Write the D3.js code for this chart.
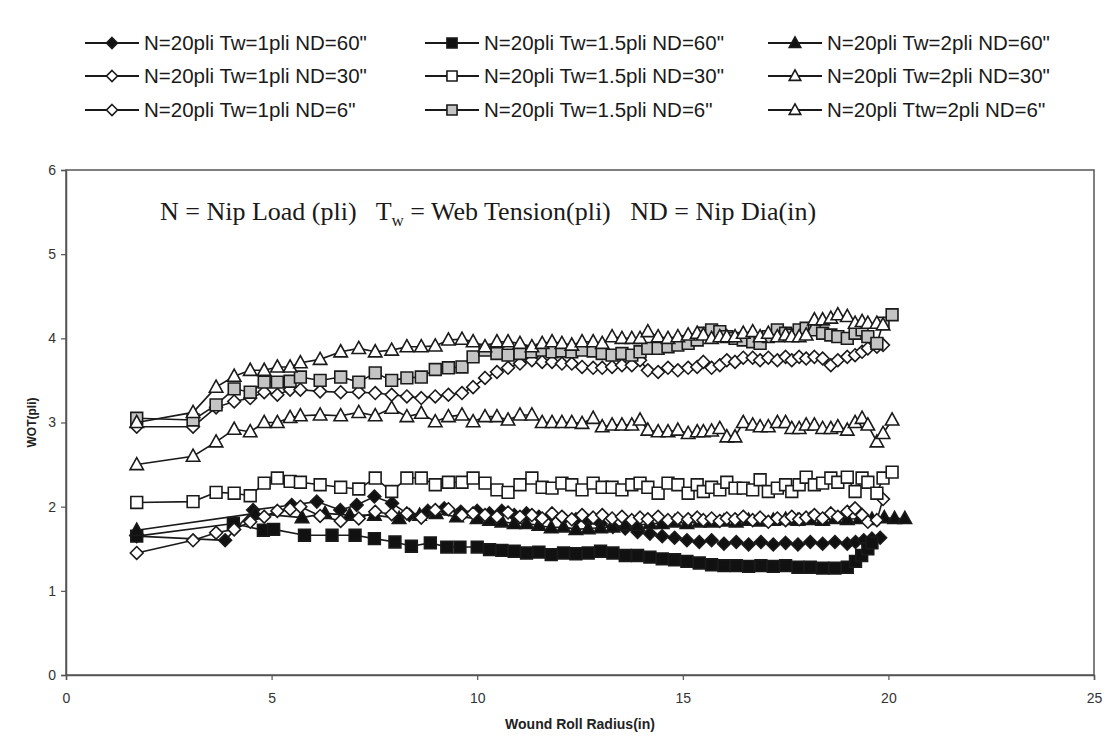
<!DOCTYPE html>
<html><head><meta charset="utf-8">
<script src="https://cdn.jsdelivr.net/npm/d3@7"></script>
<style>body{margin:0;background:#fff}svg{display:block}</style>
</head><body><svg id="c" width="1119" height="737"></svg>
<script>
// ---------------- DATA ----------------
const xTicks = [0, 5, 10, 15, 20, 25];
const yTicks = [0, 1, 2, 3, 4, 5, 6];

// 60" nip series
const radiusTw1ND60 = [1.72,3.87,4.55,5.49,6.1,6.67,7.07,7.5,7.93,8.35,8.8,9.2,9.6,10.0,10.3,10.6,10.9,11.2,11.5,11.8,12.1,12.4,12.7,13.0,13.3,13.6,13.9,14.2,14.5,14.8,15.1,15.4,15.7,16.0,16.3,16.6,16.9,17.2,17.5,17.8,18.1,18.4,18.7,19.0,19.2,19.4,19.6,19.8];
const wotTw1ND60 = [1.65,1.6,1.96,2.02,2.06,1.96,2.02,2.12,2.04,1.9,1.95,1.98,1.94,1.95,1.92,1.95,1.9,1.92,1.88,1.9,1.86,1.85,1.83,1.8,1.76,1.74,1.7,1.68,1.65,1.63,1.6,1.58,1.6,1.56,1.58,1.55,1.58,1.55,1.57,1.55,1.58,1.56,1.58,1.56,1.58,1.6,1.62,1.63];

const radiusTw15ND60 = [1.72,4.07,4.8,5.05,5.8,6.47,7.03,7.5,8.0,8.4,8.86,9.26,9.58,10.0,10.3,10.6,10.9,11.2,11.5,11.8,12.1,12.4,12.7,13.0,13.3,13.6,13.9,14.2,14.5,14.8,15.1,15.4,15.7,16.0,16.3,16.6,16.9,17.2,17.5,17.8,18.1,18.4,18.7,19.0,19.2,19.35,19.5,19.6];
const wotTw15ND60 = [1.65,1.8,1.72,1.73,1.66,1.66,1.66,1.62,1.58,1.53,1.57,1.52,1.52,1.52,1.49,1.48,1.47,1.45,1.46,1.43,1.45,1.44,1.45,1.47,1.45,1.42,1.42,1.4,1.38,1.37,1.35,1.33,1.31,1.3,1.3,1.29,1.3,1.29,1.3,1.28,1.28,1.27,1.27,1.28,1.35,1.42,1.5,1.57];

const radiusTw2ND60 = [1.72,4.6,5.74,6.3,6.9,7.5,8.1,8.6,9.0,9.5,10.0,10.3,10.6,10.9,11.2,11.5,11.8,12.1,12.4,12.7,13.0,13.3,13.6,13.9,14.2,14.5,14.8,15.1,15.4,15.7,16.0,16.3,16.6,16.9,17.2,17.5,17.8,18.1,18.4,18.7,19.0,19.3,19.6,19.9,20.15,20.4];
const wotTw2ND60 = [1.72,1.92,1.87,1.92,1.9,1.9,1.86,1.9,1.92,1.88,1.86,1.84,1.82,1.8,1.8,1.78,1.75,1.76,1.73,1.74,1.75,1.76,1.78,1.78,1.8,1.8,1.82,1.8,1.82,1.82,1.83,1.82,1.84,1.83,1.84,1.85,1.84,1.85,1.84,1.86,1.85,1.86,1.85,1.87,1.86,1.86];

// 30" and 6" nip series share the radius readings
const radius30and6 = [1.72,3.09,3.65,4.09,4.48,4.82,5.14,5.45,5.7,6.18,6.68,7.12,7.52,7.92,8.29,8.64,8.98,9.3,9.63,9.9,10.19,10.48,10.75,11.04,11.33,11.58,11.82,12.06,12.3,12.55,12.82,13.04,13.28,13.52,13.76,13.96,14.15,14.4,14.64,14.88,15.13,15.35,15.5,15.7,15.9,16.07,16.27,16.47,16.7,16.88,17.08,17.3,17.5,17.65,17.83,18.0,18.2,18.4,18.6,18.77,19.0,19.19,19.36,19.5,19.72,19.87,20.09];

const wotTw1ND30 = [1.45,1.6,1.69,1.73,1.82,1.88,1.95,1.97,2.0,1.89,1.83,1.86,1.94,1.91,1.92,1.87,1.96,1.97,1.9,1.92,1.9,1.88,1.93,1.88,1.9,1.86,1.92,1.88,1.85,1.9,1.87,1.9,1.86,1.88,1.84,1.87,1.85,1.88,1.84,1.86,1.85,1.87,1.84,1.86,1.83,1.86,1.85,1.88,1.84,1.87,1.82,1.86,1.84,1.88,1.85,1.87,1.9,1.86,1.92,1.88,1.94,1.98,1.9,1.82,1.84,2.09];
const wotTw15ND30 = [2.05,2.06,2.17,2.16,2.13,2.28,2.34,2.3,2.29,2.26,2.23,2.21,2.34,2.18,2.34,2.34,2.26,2.29,2.29,2.34,2.28,2.2,2.17,2.26,2.34,2.23,2.22,2.28,2.26,2.2,2.28,2.23,2.23,2.2,2.26,2.28,2.23,2.16,2.28,2.26,2.16,2.26,2.18,2.23,2.2,2.29,2.22,2.22,2.2,2.32,2.18,2.22,2.26,2.18,2.26,2.35,2.26,2.28,2.34,2.29,2.35,2.18,2.34,2.29,2.16,2.34,2.41];
const wotTw2ND30 = [2.5,2.6,2.77,2.92,2.89,3.0,3.0,3.06,3.08,3.09,3.08,3.12,3.08,3.17,3.07,3.11,3.01,3.07,3.09,3.01,3.07,3.07,3.03,3.09,3.09,3.0,3.0,3.0,3.0,2.99,3.05,2.95,2.97,2.97,2.97,3.03,2.91,2.89,2.89,2.91,2.87,2.89,2.89,2.9,2.93,2.83,2.83,3.0,2.97,2.95,2.95,3.0,3.0,2.93,2.93,2.97,2.97,2.93,2.93,2.95,2.91,3.0,3.05,2.97,2.77,2.87,3.03];

const wotTw1ND6 = [2.95,2.95,3.18,3.25,3.29,3.36,3.33,3.39,3.39,3.37,3.36,3.36,3.35,3.33,3.31,3.29,3.31,3.33,3.35,3.42,3.53,3.6,3.65,3.7,3.74,3.72,3.72,3.7,3.7,3.66,3.65,3.65,3.66,3.68,3.68,3.74,3.62,3.6,3.65,3.62,3.65,3.66,3.72,3.65,3.68,3.74,3.72,3.77,3.77,3.74,3.77,3.74,3.78,3.74,3.78,3.76,3.78,3.76,3.68,3.74,3.78,3.8,3.84,3.88,3.9,3.92];
const wotTw15ND6 = [3.05,3.03,3.21,3.4,3.36,3.48,3.48,3.49,3.54,3.5,3.54,3.48,3.59,3.5,3.53,3.54,3.63,3.65,3.66,3.78,3.86,3.82,3.8,3.82,3.84,3.86,3.84,3.85,3.84,3.86,3.85,3.82,3.8,3.82,3.8,3.84,3.88,3.88,3.9,3.92,3.94,3.98,4.06,4.1,4.08,4.02,4.0,3.98,3.96,3.94,4.02,4.1,4.06,4.04,4.1,4.12,4.1,4.06,4.04,4.02,4.0,4.06,4.1,4.02,3.94,4.18,4.28];
const wotTw2ND6 = [3.0,3.12,3.42,3.55,3.62,3.62,3.66,3.66,3.71,3.75,3.84,3.88,3.84,3.86,3.9,3.9,3.91,3.98,3.99,3.96,3.9,3.96,3.96,3.94,3.9,3.94,3.96,3.94,3.92,3.96,3.96,3.94,4.02,4.0,4.0,4.0,4.08,4.02,4.0,4.02,4.04,4.06,4.04,4.0,4.02,4.02,4.02,4.06,4.08,4.02,4.06,4.02,4.04,4.02,4.02,4.04,4.22,4.22,4.24,4.28,4.26,4.18,4.2,4.18,4.18,4.16];

const seriesNames = [
  'N=20pli Tw=1pli ND=60"', 'N=20pli Tw=1.5pli ND=60"', 'N=20pli Tw=2pli ND=60"',
  'N=20pli Tw=1pli ND=30"', 'N=20pli Tw=1.5pli ND=30"', 'N=20pli Tw=2pli ND=30"',
  'N=20pli Tw=1pli ND=6"',  'N=20pli Tw=1.5pli ND=6"',  'N=20pli Ttw=2pli ND=6"'
];

// ---------------- BUILD ----------------
function zipXY(xs, ys) { const n = Math.min(xs.length, ys.length); const r = []; for (let i = 0; i < n; i++) r.push([xs[i], ys[i]]); return r; }

const series = [
  {name: seriesNames[0], pts: zipXY(radiusTw1ND60, wotTw1ND60), shape: 'diamond', fill: '#111'},
  {name: seriesNames[1], pts: zipXY(radiusTw15ND60, wotTw15ND60), shape: 'square', fill: '#111'},
  {name: seriesNames[2], pts: zipXY(radiusTw2ND60, wotTw2ND60), shape: 'triangle', fill: '#111'},
  {name: seriesNames[3], pts: zipXY(radius30and6, wotTw1ND30), shape: 'diamond', fill: '#fff'},
  {name: seriesNames[4], pts: zipXY(radius30and6, wotTw15ND30), shape: 'square', fill: '#fff'},
  {name: seriesNames[5], pts: zipXY(radius30and6, wotTw2ND30), shape: 'triangle', fill: '#fff'},
  {name: seriesNames[6], pts: zipXY(radius30and6, wotTw1ND6), shape: 'diamond', fill: '#fff'},
  {name: seriesNames[7], pts: zipXY(radius30and6, wotTw15ND6), shape: 'square', fill: '#c4c4c4'},
  {name: seriesNames[8], pts: zipXY(radius30and6, wotTw2ND6), shape: 'triangle', fill: '#fff'}
];

function markerPath(shape, s) {
  if (shape === 'diamond') return `M0,${-s}L${s},0L0,${s}L${-s},0Z`;
  if (shape === 'square') { const h = s * 0.92; return `M${-h},${-h}H${h}V${h}H${-h}Z`; }
  const h = s * 1.05; return `M0,${-h * 1.05}L${h},${h * 0.75}L${-h},${h * 0.75}Z`;
}

const svg = d3.select('#c');
const L = 66, R = 1094, T = 170, B = 675;
const x = d3.scaleLinear().domain([0, 25]).range([L, R]);
const y = d3.scaleLinear().domain([0, 6]).range([B, T]);
const INK = '#1a1a1a';

svg.append('rect').attr('width', 1119).attr('height', 737).attr('fill', '#fff');

// plot frame
svg.append('rect').attr('x', L).attr('y', T).attr('width', R - L).attr('height', B - T)
  .attr('fill', 'none').attr('stroke', '#555').attr('stroke-width', 1.5);

const tickFont = '"Liberation Sans Narrow","Arial Narrow","Liberation Sans",Arial,sans-serif';
const gx = svg.append('g').attr('transform', `translate(0,${B})`)
  .call(d3.axisBottom(x).tickValues(xTicks).tickSize(5).tickPadding(13).tickFormat(d3.format('d')));
const gy = svg.append('g').attr('transform', `translate(${L},0)`)
  .call(d3.axisLeft(y).tickValues(yTicks).tickSize(5).tickPadding(5).tickFormat(d3.format('d')));
[gx, gy].forEach(g => {
  g.select('.domain').attr('stroke', '#555').attr('stroke-width', 1.5);
  g.selectAll('.tick line').attr('stroke', '#555').attr('stroke-width', 1.2);
  g.selectAll('.tick text').attr('fill', '#333').style('font-family', tickFont).style('font-size', '14px');
});

// axis titles
svg.append('text').attr('x', (L + R) / 2).attr('y', 729).attr('text-anchor', 'middle')
  .style('font-family', tickFont).style('font-weight', 'bold').style('font-size', '14px').attr('fill', '#222')
  .text('Wound Roll Radius(in)');
svg.append('text').attr('transform', `translate(36,${(T + B) / 2}) rotate(-90)`).attr('text-anchor', 'middle')
  .style('font-family', tickFont).style('font-weight', 'bold').style('font-size', '12px').attr('fill', '#222')
  .text('WOT(pli)');

// annotation
const ann = svg.append('text').attr('x', 160).attr('y', 220)
  .style('font-family', '"Liberation Serif","Times New Roman",serif').style('font-size', '26px')
  .style('white-space', 'pre').attr('fill', '#1a1a1a');
ann.append('tspan').text('N = Nip Load (pli)   T');
ann.append('tspan').attr('dy', 6).style('font-size', '17px').text('w');
ann.append('tspan').attr('dy', -6).text(' = Web Tension(pli)   ND = Nip Dia(in)');

// series
const line = d3.line().x(d => x(d[0])).y(d => y(d[1]));
const plot = svg.append('g');
series.forEach(s => {
  const g = plot.append('g');
  g.append('path').attr('d', line(s.pts)).attr('fill', 'none').attr('stroke', INK).attr('stroke-width', 1.6);
  g.selectAll('path.m').data(s.pts).join('path').attr('class', 'm')
    .attr('transform', d => `translate(${x(d[0])},${y(d[1])})`)
    .attr('d', markerPath(s.shape, 6.4))
    .attr('fill', s.fill).attr('stroke', INK).attr('stroke-width', 1.6);
});

// legend
const colX = [85, 425, 768];
const rowY = [43, 76, 110];
series.forEach((s, i) => {
  const cx = colX[i % 3], cy = rowY[Math.floor(i / 3)];
  const g = svg.append('g').attr('transform', `translate(${cx},${cy})`);
  g.append('line').attr('x1', 0).attr('x2', 54).attr('y1', 0).attr('y2', 0).attr('stroke', INK).attr('stroke-width', 1.8);
  g.append('path').attr('transform', 'translate(27,0)').attr('d', markerPath(s.shape, 5.5))
    .attr('fill', s.fill).attr('stroke', INK).attr('stroke-width', 1.6);
  g.append('text').attr('x', 59).attr('y', 7).style('font-family', '"Liberation Sans",Arial,sans-serif')
    .style('font-size', '20.5px').attr('fill', '#1a1a1a').text(s.name);
});
</script>
</body></html>
